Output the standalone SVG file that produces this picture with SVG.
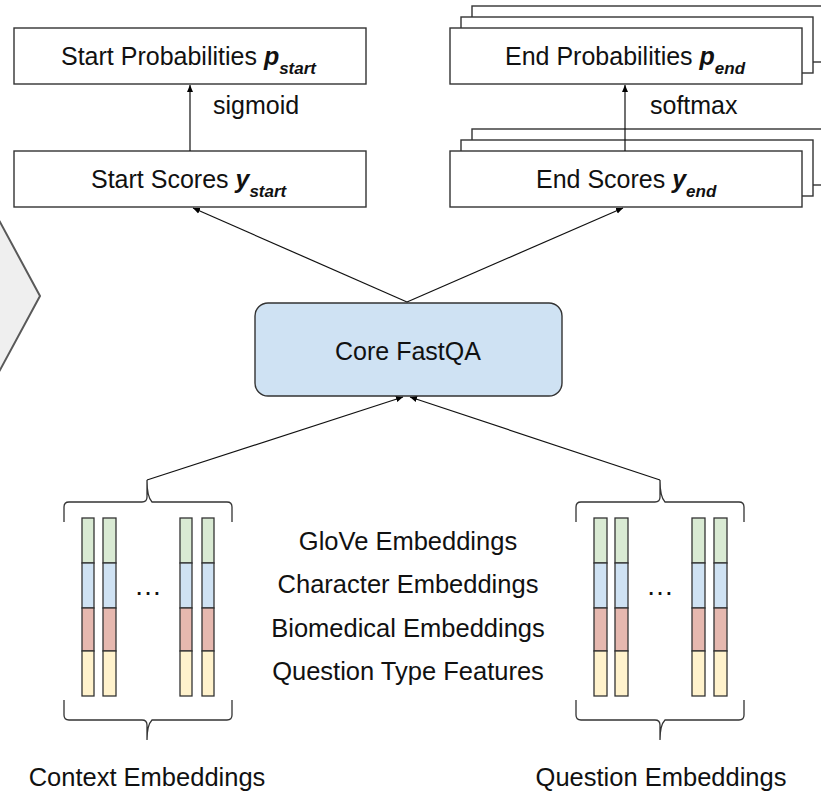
<svg xmlns="http://www.w3.org/2000/svg" width="821" height="793" viewBox="0 0 821 793">
<defs>
<marker id="ah" markerWidth="8" markerHeight="8" refX="7" refY="4" orient="auto" markerUnits="userSpaceOnUse">
<path d="M0,1 L7,4 L0,7 Z" fill="#000"/>
</marker>
<style>
.box{fill:#fff;stroke:#333;stroke-width:1.4}
.t{font-family:"Liberation Sans",Arial,sans-serif;font-size:25px;fill:#111}
.tb{font-family:"Liberation Sans",Arial,sans-serif;font-size:25.5px;fill:#111}
.bi{font-weight:bold;font-style:italic}
.sub{font-size:17px;font-weight:bold;font-style:italic}
.conn{stroke:#111;stroke-width:1.2;fill:none;marker-end:url(#ah)}
.brace{stroke:#333;stroke-width:1.3;fill:none}
.bar{stroke:#333;stroke-width:1.3}
.g{fill:#d9ead3}.b{fill:#cfe2f3}.r{fill:#e6b8af}.y{fill:#fff2cc}
</style>
</defs>
<rect width="821" height="793" fill="#fff"/>

<g id="diamond">
<path d="M-60,296 L0,222 L40,296 L0,370 Z" fill="#efefef" stroke="#595959" stroke-width="2"/>
</g>

<g id="start-prob">
<rect class="box" x="14" y="28" width="352" height="56"/>
<text class="t" x="61" y="65">Start Probabilities <tspan class="bi">p</tspan><tspan class="sub" dy="9">start</tspan></text>
</g>

<g id="start-scores">
<rect class="box" x="14" y="151" width="352" height="56"/>
<text class="t" x="91" y="188">Start Scores <tspan class="bi">y</tspan><tspan class="sub" dy="9">start</tspan></text>
</g>

<g id="end-prob">
<rect class="box" x="472" y="6" width="360" height="56"/>
<rect class="box" x="461" y="17" width="352" height="56"/>
<rect class="box" x="450" y="28" width="352" height="56"/>
<text class="t" x="505" y="65">End Probabilities <tspan class="bi">p</tspan><tspan class="sub" dy="9">end</tspan></text>
</g>

<g id="end-scores">
<rect class="box" x="472" y="129" width="360" height="56"/>
<rect class="box" x="461" y="140" width="352" height="56"/>
<rect class="box" x="450" y="151" width="352" height="56"/>
<text class="t" x="536" y="188">End Scores <tspan class="bi">y</tspan><tspan class="sub" dy="9">end</tspan></text>
</g>

<g id="core">
<rect x="255" y="303" width="307" height="93" rx="13" fill="#cfe2f3" stroke="#333" stroke-width="1.4"/>
<text class="t" x="408" y="360" text-anchor="middle">Core FastQA</text>
</g>

<g id="context">
<path class="brace" d="M64,522 L64,507 Q64,502 69,502 L142,502 Q147,502 147,497 L147,480 Q147,497 152,502 L227,502 Q232,502 232,507 L232,522"/>
<g>
<rect class="bar g" x="82" y="518" width="12" height="45"/><rect class="bar b" x="82" y="563" width="12" height="45"/><rect class="bar r" x="82" y="608" width="12" height="43"/><rect class="bar y" x="82" y="651" width="12" height="45"/>
<rect class="bar g" x="103" y="518" width="13" height="45"/><rect class="bar b" x="103" y="563" width="13" height="45"/><rect class="bar r" x="103" y="608" width="13" height="43"/><rect class="bar y" x="103" y="651" width="13" height="45"/>
<rect class="bar g" x="180" y="518" width="12" height="45"/><rect class="bar b" x="180" y="563" width="12" height="45"/><rect class="bar r" x="180" y="608" width="12" height="43"/><rect class="bar y" x="180" y="651" width="12" height="45"/>
<rect class="bar g" x="202" y="518" width="12" height="45"/><rect class="bar b" x="202" y="563" width="12" height="45"/><rect class="bar r" x="202" y="608" width="12" height="43"/><rect class="bar y" x="202" y="651" width="12" height="45"/>
</g>
<text class="t" x="148" y="595" text-anchor="middle" style="font-size:28px">…</text>
<path class="brace" d="M64,700 L64,715 Q64,720 69,720 L142,720 Q147,720 147,725 L147,740 Q147,725 152,720 L227,720 Q232,720 232,715 L232,700"/>
<text class="tb" x="147" y="786" text-anchor="middle">Context Embeddings</text>
</g>

<g id="question">
<path class="brace" d="M576,522 L576,507 Q576,502 581,502 L655,502 Q660,502 660,497 L660,480 Q660,497 665,502 L739,502 Q744,502 744,507 L744,522"/>
<g>
<rect class="bar g" x="594" y="518" width="13" height="45"/><rect class="bar b" x="594" y="563" width="13" height="45"/><rect class="bar r" x="594" y="608" width="13" height="43"/><rect class="bar y" x="594" y="651" width="13" height="45"/>
<rect class="bar g" x="615" y="518" width="13" height="45"/><rect class="bar b" x="615" y="563" width="13" height="45"/><rect class="bar r" x="615" y="608" width="13" height="43"/><rect class="bar y" x="615" y="651" width="13" height="45"/>
<rect class="bar g" x="692" y="518" width="13" height="45"/><rect class="bar b" x="692" y="563" width="13" height="45"/><rect class="bar r" x="692" y="608" width="13" height="43"/><rect class="bar y" x="692" y="651" width="13" height="45"/>
<rect class="bar g" x="714" y="518" width="13" height="45"/><rect class="bar b" x="714" y="563" width="13" height="45"/><rect class="bar r" x="714" y="608" width="13" height="43"/><rect class="bar y" x="714" y="651" width="13" height="45"/>
</g>
<text class="t" x="660" y="595" text-anchor="middle" style="font-size:28px">…</text>
<path class="brace" d="M576,700 L576,715 Q576,720 581,720 L655,720 Q660,720 660,725 L660,740 Q660,725 665,720 L739,720 Q744,720 744,715 L744,700"/>
<text class="tb" x="661" y="786" text-anchor="middle">Question Embeddings</text>
</g>

<g id="features">
<text class="tb" x="408" y="550" text-anchor="middle">GloVe Embeddings</text>
<text class="tb" x="408" y="593" text-anchor="middle">Character Embeddings</text>
<text class="tb" x="408" y="637" text-anchor="middle">Biomedical Embeddings</text>
<text class="tb" x="408" y="680" text-anchor="middle">Question Type Features</text>
</g>

<g id="connectors">
<line class="conn" x1="190" y1="151" x2="190" y2="85"/>
<line class="conn" x1="625" y1="151" x2="625" y2="85"/>
<line class="conn" x1="407" y1="302" x2="193" y2="208"/>
<line class="conn" x1="407" y1="302" x2="623" y2="208"/>
<line class="conn" x1="147" y1="480" x2="403" y2="397"/>
<line class="conn" x1="660" y1="480" x2="410" y2="397"/>
<text class="t" x="213" y="114">sigmoid</text>
<text class="t" x="650" y="114">softmax</text>
</g>
</svg>
